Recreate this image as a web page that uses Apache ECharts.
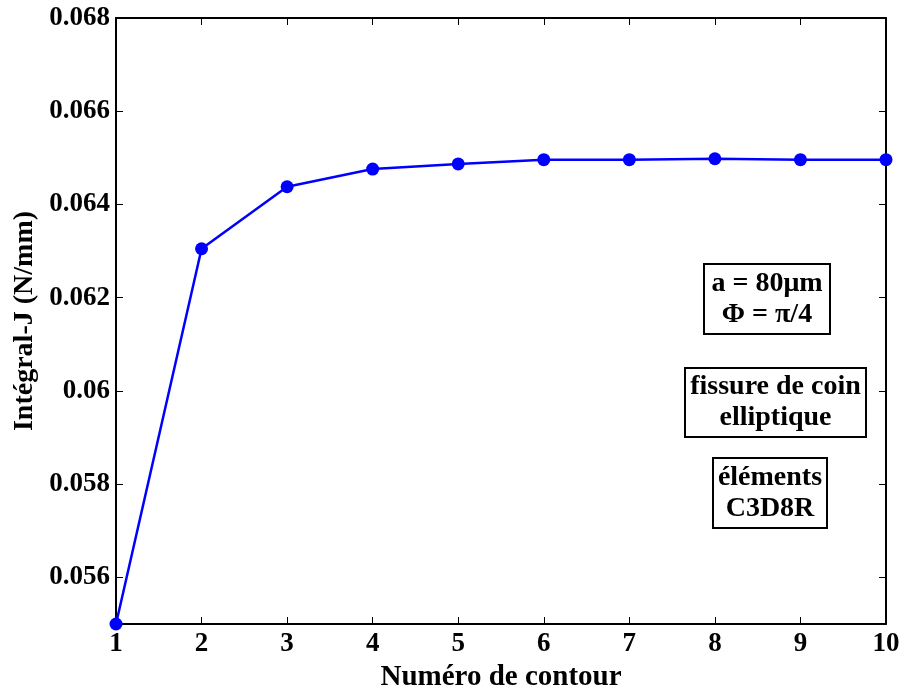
<!DOCTYPE html>
<html>
<head>
<meta charset="utf-8">
<script src="https://cdn.jsdelivr.net/npm/echarts@6/dist/echarts.min.js"></script>
<style>
html, body { margin: 0; padding: 0; background: #fff; }
#chart { width: 903px; height: 693px; }
</style>
</head>
<body>
<div id="chart"></div>
<script>
var contours = [1, 2, 3, 4, 5, 6, 7, 8, 9, 10];
var integralJ = [0.05500, 0.06305, 0.06438, 0.06476, 0.06487, 0.06496, 0.06496, 0.06498, 0.06496, 0.06496];
var yTicks = [0.056, 0.058, 0.060, 0.062, 0.064, 0.066, 0.068];
var notes = [
	['a = 80μm', 'Φ = π/4'],
	['fissure de coin', 'elliptique'],
	['éléments', 'C3D8R']
];

var FONT = 'Liberation Serif';

function noteBox(lines, x, y, w, h) {
	return {
		type: 'group',
		left: x,
		top: y,
		children: [
			{ type: 'rect', shape: { x: 0, y: 0, width: w, height: h },
				style: { fill: '#fff', stroke: '#000', lineWidth: 2 } },
			{ type: 'text', x: w / 2, y: h / 2,
				style: { text: lines.join('\n'), fill: '#000', font: 'bold 28px "' + FONT + '"',
					align: 'center', verticalAlign: 'middle', lineHeight: 31 } }
		]
	};
}

var myChart = echarts.init(document.getElementById('chart'));
var tickStyle = { show: true, inside: true, length: 7, lineStyle: { color: '#000', width: 1 } };
var option = {
	animation: false,
	backgroundColor: '#fff',
	textStyle: { fontFamily: FONT },
	grid: { left: 116, right: 17, top: 18, bottom: 69, outerBoundsMode: 'none', containLabel: false },
	xAxis: [{
		type: 'value',
		min: 1, max: 10, interval: 1,
		name: 'Numéro de contour',
		nameLocation: 'middle',
		nameGap: 37,
		nameTextStyle: { fontFamily: FONT, fontSize: 29, fontWeight: 'bold', color: '#000' },
		axisLine: { lineStyle: { color: '#000', width: 2 } },
		axisTick: tickStyle,
		axisLabel: { fontFamily: FONT, fontSize: 27, fontWeight: 'bold', color: '#000', margin: 7 },
		splitLine: { show: false }
	}, {
		type: 'value', position: 'top',
		min: 1, max: 10, interval: 1,
		axisLine: { show: true, lineStyle: { color: '#000', width: 2 } },
		axisTick: tickStyle,
		axisLabel: { show: false },
		splitLine: { show: false }
	}],
	yAxis: [{
		type: 'value',
		min: 0.055, max: 0.068, interval: 0.001,
		name: 'Intégral-J (N/mm)',
		nameLocation: 'middle',
		nameGap: 75,
		nameTextStyle: { fontFamily: FONT, fontSize: 28, fontWeight: 'bold', color: '#000' },
		axisLine: { show: true, lineStyle: { color: '#000', width: 2 } },
		axisTick: Object.assign({ customValues: yTicks }, tickStyle),
		axisLabel: {
			customValues: yTicks,
			fontFamily: FONT, fontSize: 27, fontWeight: 'bold', color: '#000', margin: 6,
			formatter: function (v) { return String(parseFloat(v.toFixed(3))); }
		},
		splitLine: { show: false }
	}, {
		type: 'value', position: 'right',
		min: 0.055, max: 0.068, interval: 0.001,
		axisLine: { show: true, lineStyle: { color: '#000', width: 2 } },
		axisTick: Object.assign({ customValues: yTicks }, tickStyle),
		axisLabel: { show: false },
		splitLine: { show: false }
	}],
	series: [{
		type: 'line',
		data: contours.map(function (c, i) { return [c, integralJ[i]]; }),
		symbol: 'circle',
		symbolSize: 13,
		clip: false,
		lineStyle: { color: '#0000ff', width: 2.5 },
		itemStyle: { color: '#0000ff' }
	}],
	graphic: [
		noteBox(notes[0], 703, 263, 126, 70),
		noteBox(notes[1], 684, 367, 181, 69),
		noteBox(notes[2], 712, 457, 114, 70)
	]
};
myChart.setOption(option);
</script>
</body>
</html>
